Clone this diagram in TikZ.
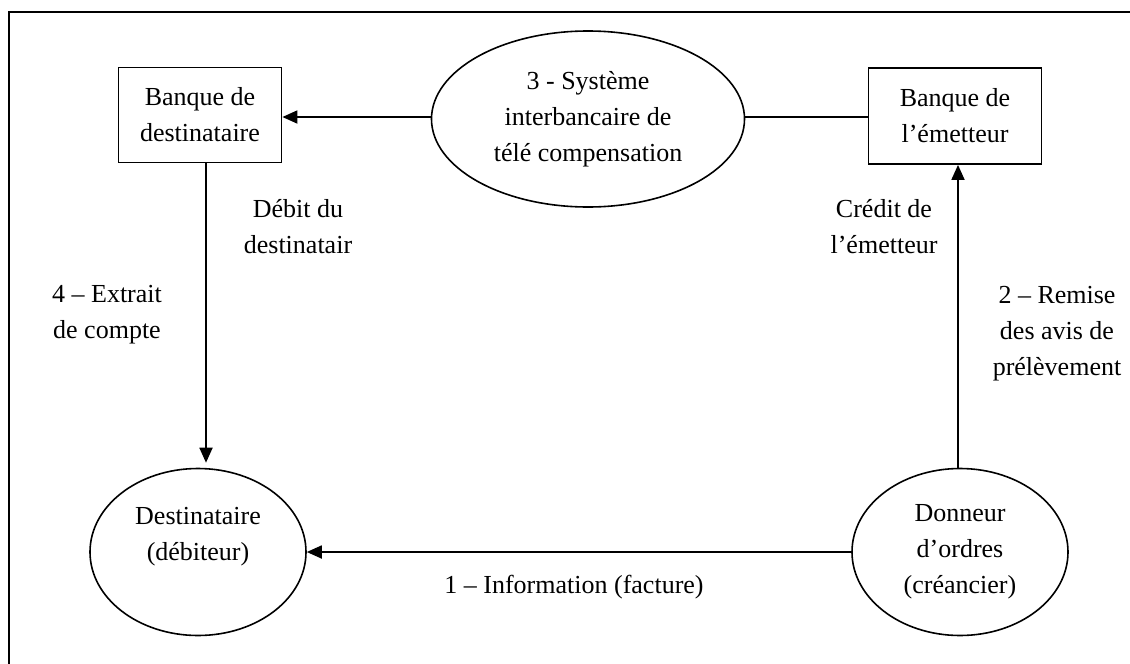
\documentclass[tikz,border=0pt]{standalone}
\usepackage{fontspec}
\setmainfont{Liberation Serif}
\usetikzlibrary{shapes.geometric,arrows.meta}
\begin{document}
\begin{tikzpicture}[x=1pt,y=-1pt,
  every node/.style={font=\fontsize{26}{36}\selectfont, align=center, inner sep=0pt},
  boxnode/.style={draw, line width=1.8pt, minimum width=163pt, minimum height=95pt},
  ellnode/.style={draw, ellipse, line width=1.6pt},
  arr/.style={line width=1.8pt, -{Triangle[length=15pt,width=13pt]}},
  ln/.style={line width=1.8pt},
  lbl/.style={}]
\useasboundingbox (0,0) rectangle (1130,664);
\draw[line width=2pt] (9,664) -- (9,12) -- (1130,12);

\node[boxnode] (bd) at (200,115) {Banque de\\destinataire};
\node[boxnode, minimum width=173pt, minimum height=96pt] (be) at (955,116) {Banque de\\l’émetteur};
\node[ellnode, minimum width=313pt, minimum height=176pt] (sys) at (588,119) {3 - Système\\interbancaire de\\télé compensation};
\node[ellnode, minimum width=216pt, minimum height=167pt] (dest) at (198,552) {Destinataire\\(débiteur)\\\mbox{}};
\node[ellnode, minimum width=216pt, minimum height=167pt] (don) at (960,552) {Donneur\\d’ordres\\(créancier)};

\node[lbl] (l1) at (298,227) {Débit du\\destinatair};
\node[lbl] (l2) at (107,315) {4 – Extrait\\de compte};
\node[lbl] (l3) at (884,227) {Crédit de\\l’émetteur};
\node[lbl] (l4) at (1057,334) {2 – Remise\\des avis de\\prélèvement};
\node[lbl] (l5) at (574,587) {1 – Information (facture)};

\draw[arr] (sys.west |- 0,117) -- (bd.east |- 0,117);
\draw[ln] (sys.east |- 0,117) -- (be.west |- 0,117);
\draw[arr, shorten >=5pt] ([xshift=6pt]bd.south) -- ([xshift=6pt]bd.south |- dest.north);
\draw[arr] ([xshift=-2pt]don.north) -- ([xshift=-2pt]don.north |- be.south);
\draw[arr] (don.west) -- (dest.east);
\end{tikzpicture}
\end{document}
